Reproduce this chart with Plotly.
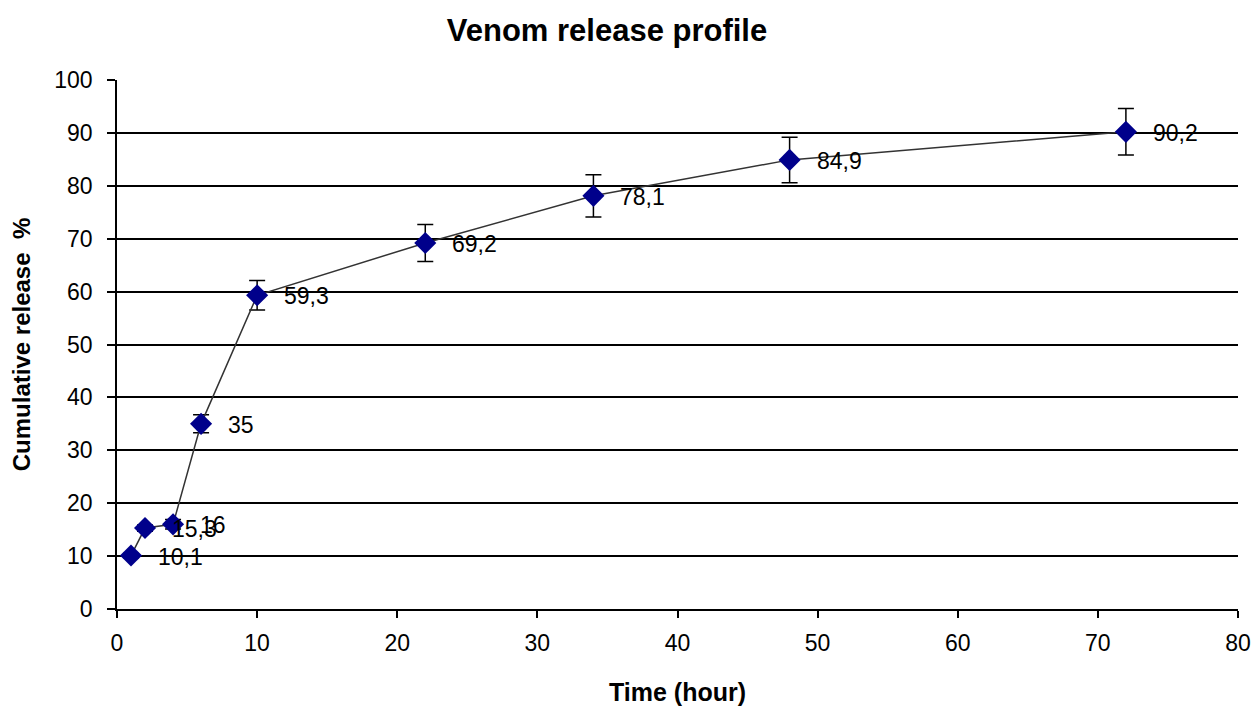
import plotly.graph_objects as go

time_h = [1, 2, 4, 6, 10, 22, 34, 48, 72]
release = [10.1, 15.3, 16, 35, 59.3, 69.2, 78.1, 84.9, 90.2]
release_err = [0.4, 0.6, 0.9, 1.7, 2.8, 3.5, 4.0, 4.3, 4.4]
labels = ["10,1", "15,3", "16", "35", "59,3", "69,2", "78,1", "84,9", "90,2"]

FONT = "Liberation Sans, Arial, sans-serif"
W, H = 1252, 700  # page body has an 8px margin

fig = go.Figure()
fig.add_trace(go.Scatter(
    x=time_h, y=release,
    mode="lines+markers",
    line=dict(color="#333333", width=1.5),
    marker=dict(symbol="diamond", size=17, color="#00008B"),
    error_y=dict(type="data", array=release_err, visible=True,
                 color="black", thickness=1.5, width=8),
    showlegend=False,
))

for xv, yv, lab in zip(time_h, release, labels):
    fig.add_annotation(x=xv, y=yv, text=lab, showarrow=False,
                       xanchor="left", yanchor="middle", xshift=25, yshift=-1,
                       font=dict(family=FONT, size=23, color="black"))

fig.update_layout(
    width=W, height=H,
    paper_bgcolor="white", plot_bgcolor="white",
    margin=dict(l=109, r=22, t=72, b=99),
    title=dict(text="<b>Venom release profile</b>", x=(607 - 8) / W, xanchor="center",
               xref="container",
               y=1 - (30 - 8) / H, yref="container", yanchor="middle",
               font=dict(family=FONT, size=31, color="black")),
    font=dict(family=FONT, color="black"),
)

fig.update_xaxes(
    range=[0, 80], tickvals=list(range(0, 81, 10)),
    showline=True, linecolor="black", linewidth=1.5,
    ticks="outside", ticklen=7, tickcolor="black", tickwidth=1.5,
    ticklabelstandoff=6,
    showgrid=False, zeroline=False, automargin=False,
    tickfont=dict(family=FONT, size=23, color="black"),
    title=dict(text="<b>Time (hour)</b>", standoff=28,
               font=dict(family=FONT, size=25, color="black")),
)
fig.update_yaxes(
    range=[0, 100], tickvals=list(range(0, 101, 10)),
    showline=True, linecolor="black", linewidth=1.5,
    ticks="outside", ticklen=8, tickcolor="black", tickwidth=1.5,
    ticklabelstandoff=10,
    showgrid=False, zeroline=False, automargin=False,
    minor=dict(tickvals=list(range(10, 91, 10)), showgrid=True,
               gridcolor="black", gridwidth=1.5, ticks=""),
    tickfont=dict(family=FONT, size=23, color="black"),
    title=dict(text="<b>Cumulative release  %</b>", standoff=18,
               font=dict(family=FONT, size=24, color="black")),
)

fig.write_html("out.html")
